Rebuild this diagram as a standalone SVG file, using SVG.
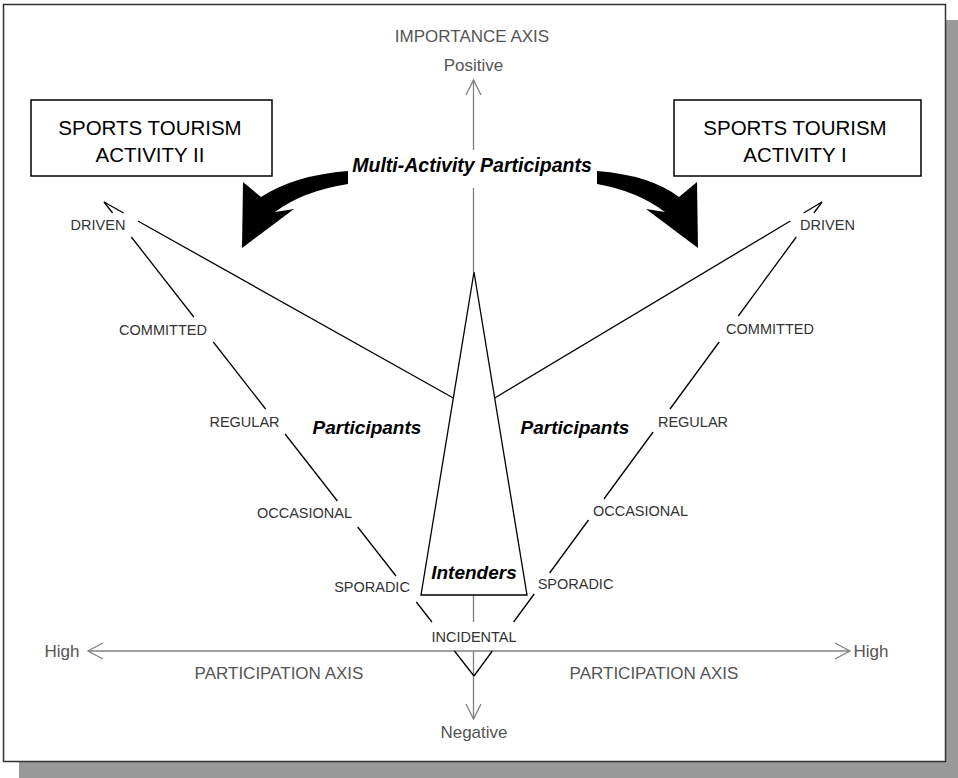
<svg xmlns="http://www.w3.org/2000/svg" width="958" height="778" viewBox="0 0 958 778">
  <style>
    .axis { stroke: #808080; stroke-width: 1.3; fill: none; }
    .ln { stroke: #000; stroke-width: 1.3; fill: none; }
    .axlbl { font-family: "Liberation Sans", Arial, sans-serif; font-size: 17px; fill: #555; text-anchor: middle; }
    .lvl { font-family: "Liberation Sans", Arial, sans-serif; font-size: 14.5px; fill: #333; text-anchor: middle; }
    .grp { font-family: "Liberation Sans", Arial, sans-serif; font-size: 19px; font-weight: bold; font-style: italic; fill: #000; text-anchor: middle; }
    .box { fill: #fff; stroke: #000; stroke-width: 1.5; }
    .boxtxt { font-family: "Liberation Sans", Arial, sans-serif; font-size: 20.5px; fill: #000; text-anchor: middle; }
  </style>

  <!-- page with drop shadow -->
  <rect x="19" y="20" width="943" height="758" fill="#999"/>
  <rect x="3.5" y="4.5" width="942" height="757" fill="#fff" stroke="#333" stroke-width="1.5"/>

  <g id="connectors">
    <!-- importance axis (vertical) -->
    <polyline class="axis" points="473.5,150 473.5,80"/>
    <polyline class="axis" points="473.5,188 473.5,272"/>
    <polyline class="axis" points="473.5,595 473.5,622"/>
    <polyline class="axis" points="473.5,651 473.5,719"/>
    <polyline class="axis" points="466,95 473.5,80 481,95"/>
    <polyline class="axis" points="466,704 473.5,719 481,704"/>
    <!-- participation axis (horizontal) -->
    <polyline class="axis" points="88,651 850,651"/>
    <polyline class="axis" points="103,643 88,651 103,659"/>
    <polyline class="axis" points="835,643 850,651 835,659"/>

    <!-- activity II scale (left) -->
    <g class="ln">
      <line x1="104" y1="202" x2="112.6" y2="213"/>
      <line x1="131.3" y1="237" x2="193.8" y2="317"/>
      <line x1="213.3" y1="342" x2="265.6" y2="409"/>
      <line x1="285.1" y1="434" x2="337.4" y2="501"/>
      <line x1="357.7" y1="527" x2="396" y2="576"/>
      <line x1="416.3" y1="602" x2="431.9" y2="622"/>
      <line x1="454.5" y1="651" x2="474" y2="676"/>
      <line x1="104" y1="202" x2="123.6" y2="213"/>
      <line x1="137.9" y1="221" x2="453.3" y2="398"/>
    </g>
    <!-- activity I scale (right) -->
    <g class="ln">
      <line x1="822" y1="202" x2="813.9" y2="213"/>
      <line x1="796.3" y1="237" x2="738.3" y2="316"/>
      <line x1="719.2" y1="342" x2="670" y2="409"/>
      <line x1="653.1" y1="432" x2="603.9" y2="499"/>
      <line x1="588.5" y1="520" x2="549.6" y2="573"/>
      <line x1="534.2" y1="594" x2="513.6" y2="622"/>
      <line x1="492.3" y1="651" x2="474" y2="676"/>
      <line x1="822" y1="202" x2="803.6" y2="213"/>
      <line x1="790.3" y1="221" x2="494.7" y2="398"/>
    </g>

    <!-- multi-activity arrows -->
    <path id="arrow-left" fill="#000" d="M348,171 Q295,175 261,197 L243,182 L242,248 L294,209 L275,212 Q303,191 348,184 Z"/>
    <path id="arrow-right" fill="#000" d="M597,171 Q650,175 679,197 L697,182 L698,248 L646,209 L665,212 Q637,191 597,184 Z"/>
  </g>

  <g id="axis-labels">
    <text class="axlbl" x="472" y="42">IMPORTANCE AXIS</text>
    <text class="axlbl" x="473.5" y="71">Positive</text>
    <text class="axlbl" x="474" y="738">Negative</text>
    <text class="axlbl" x="62" y="657">High</text>
    <text class="axlbl" x="871" y="657">High</text>
    <text class="axlbl" x="279" y="679">PARTICIPATION AXIS</text>
    <text class="axlbl" x="654" y="679">PARTICIPATION AXIS</text>
  </g>

  <g id="activity-2">
    <rect class="box" x="31" y="100" width="241" height="76"/>
    <text class="boxtxt" x="150" y="135">SPORTS TOURISM</text>
    <text class="boxtxt" x="150" y="162">ACTIVITY II</text>
  </g>
  <g id="activity-1">
    <rect class="box" x="674" y="100" width="247" height="76"/>
    <text class="boxtxt" x="795" y="135">SPORTS TOURISM</text>
    <text class="boxtxt" x="795" y="162">ACTIVITY I</text>
  </g>

  <g id="multi-activity">
    <text class="grp" x="472" y="172" style="font-size:19.5px">Multi-Activity Participants</text>
  </g>

  <g id="intenders">
    <polygon class="ln" points="474,272 421,595 527,595"/>
    <text class="grp" x="474" y="579">Intenders</text>
  </g>

  <g id="participants-left">
    <text class="grp" x="367" y="434">Participants</text>
  </g>
  <g id="participants-right">
    <text class="grp" x="575" y="434">Participants</text>
  </g>

  <g id="levels-left">
    <text class="lvl" x="98" y="230">DRIVEN</text>
    <text class="lvl" x="163" y="335">COMMITTED</text>
    <text class="lvl" x="244.5" y="427">REGULAR</text>
    <text class="lvl" x="304.5" y="518">OCCASIONAL</text>
    <text class="lvl" x="372" y="592">SPORADIC</text>
  </g>
  <g id="incidental">
    <text class="lvl" x="474" y="642">INCIDENTAL</text>
  </g>
  <g id="levels-right">
    <text class="lvl" x="827.5" y="230">DRIVEN</text>
    <text class="lvl" x="770" y="334">COMMITTED</text>
    <text class="lvl" x="693" y="427">REGULAR</text>
    <text class="lvl" x="640.5" y="516">OCCASIONAL</text>
    <text class="lvl" x="575.5" y="589">SPORADIC</text>
  </g>
</svg>
